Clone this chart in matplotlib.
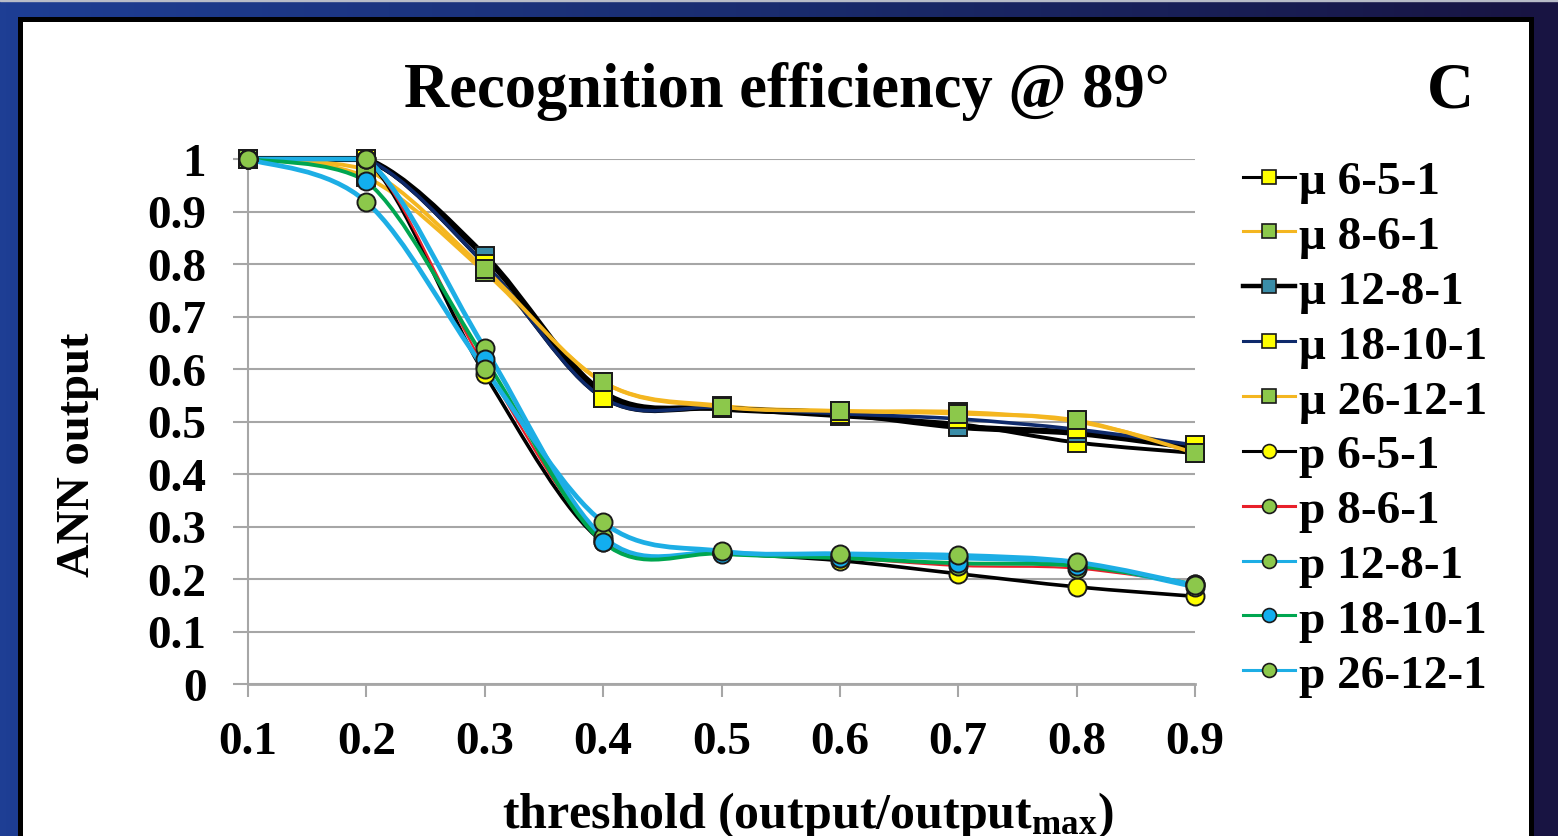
import numpy as np
import matplotlib
matplotlib.use("Agg")
import matplotlib.pyplot as plt
from matplotlib.path import Path
from matplotlib.patches import PathPatch, Rectangle
from matplotlib.lines import Line2D
from matplotlib.colors import LinearSegmentedColormap

W, H, DPI = 1558, 837, 100
SERIF = ["Liberation Serif", "DejaVu Serif"]
plt.rcParams["font.family"] = SERIF
plt.rcParams["font.weight"] = "bold"
plt.rcParams["mathtext.fontset"] = "custom"
plt.rcParams["mathtext.rm"] = "Liberation Serif:bold"
plt.rcParams["mathtext.it"] = "Liberation Serif:bold"
plt.rcParams["mathtext.bf"] = "Liberation Serif:bold"

# ---- data ----
thresholds = [0.1, 0.2, 0.3, 0.4, 0.5, 0.6, 0.7, 0.8, 0.9]
x_tick_labels = ["0.1", "0.2", "0.3", "0.4", "0.5", "0.6", "0.7", "0.8", "0.9"]
y_ticks = [0, 0.1, 0.2, 0.3, 0.4, 0.5, 0.6, 0.7, 0.8, 0.9, 1.0]
y_tick_labels = ["0", "0.1", "0.2", "0.3", "0.4", "0.5", "0.6", "0.7", "0.8", "0.9", "1"]

series_labels = ["μ 6-5-1", "μ 8-6-1", "μ 12-8-1", "μ 18-10-1", "μ 26-12-1",
                 "p 6-5-1", "p 8-6-1", "p 12-8-1", "p 18-10-1", "p 26-12-1"]

mu_6_5_1 = [1.00, 1.00, 0.800, 0.545, 0.525, 0.510, 0.495, 0.460, 0.440]
mu_8_6_1 = [1.00, 0.965, 0.785, 0.575, 0.530, 0.520, 0.518, 0.500, 0.445]
mu_12_8_1 = [1.00, 1.00, 0.815, 0.555, 0.525, 0.515, 0.490, 0.478, 0.450]
mu_18_10_1 = [1.00, 1.00, 0.800, 0.545, 0.527, 0.515, 0.505, 0.485, 0.455]
mu_26_12_1 = [1.00, 0.980, 0.790, 0.575, 0.528, 0.520, 0.515, 0.502, 0.440]

p_6_5_1 = [1.00, 1.00, 0.590, 0.270, 0.250, 0.235, 0.210, 0.185, 0.167]
p_8_6_1 = [1.00, 1.00, 0.605, 0.275, 0.250, 0.240, 0.225, 0.220, 0.190]
p_12_8_1 = [1.00, 1.00, 0.640, 0.280, 0.250, 0.245, 0.240, 0.230, 0.185]
p_18_10_1 = [1.00, 0.958, 0.620, 0.270, 0.248, 0.240, 0.230, 0.225, 0.190]
p_26_12_1 = [1.00, 0.918, 0.600, 0.308, 0.253, 0.248, 0.245, 0.232, 0.188]

series_values = [mu_6_5_1, mu_8_6_1, mu_12_8_1, mu_18_10_1, mu_26_12_1,
                 p_6_5_1, p_8_6_1, p_12_8_1, p_18_10_1, p_26_12_1]

# ---- styles ----
BLACK, GOLD, NAVY = "#000000", "#F4B620", "#0E2A6B"
CYAN, GREEN, RED = "#1DAEE5", "#00A650", "#E8202A"
YEL, LGREEN, TEAL, BLUE = "#FFFF00", "#8CC84B", "#3A8DA8", "#12AEEF"

line_colors = [BLACK, GOLD, BLACK, NAVY, GOLD, BLACK, RED, CYAN, GREEN, CYAN]
line_widths = [2.8, 2.8, 4.4, 2.6, 2.8, 2.6, 1.6, 3.4, 2.8, 3.4]
legend_widths = [2.2, 2.2, 3.2, 2.2, 2.2, 2.2, 2.2, 2.2, 2.2, 2.2]
markers = ["s"] * 5 + ["o"] * 5
marker_faces = [YEL, LGREEN, TEAL, YEL, LGREEN, YEL, LGREEN, LGREEN, BLUE, LGREEN]


def smooth_path(xs, ys, ymax=1.0):
    """Cubic Bezier path through the points (Catmull-Rom style smoothing)."""
    pts = np.column_stack([xs, ys]).astype(float)
    n = len(pts)
    verts = [pts[0]]
    codes = [Path.MOVETO]
    for i in range(n - 1):
        p0 = pts[max(i - 1, 0)]
        p1 = pts[i]
        p2 = pts[i + 1]
        p3 = pts[min(i + 2, n - 1)]
        c1 = p1 + (p2 - p0) / 6.0
        c2 = p2 - (p3 - p1) / 6.0
        c1[1] = min(c1[1], ymax)
        c2[1] = min(c2[1], ymax)
        verts += [c1, c2, p2]
        codes += [Path.CURVE4] * 3
    return Path(verts, codes)


fig = plt.figure(figsize=(W / DPI, H / DPI), dpi=DPI)

# backdrop gradient
bg = fig.add_axes([0, 0, 1, 1], zorder=-10)
cmap = LinearSegmentedColormap.from_list("bg", ["#1E3E94", "#1A2C6E", "#181442"])
grad = np.tile(np.linspace(0, 1, 256), (16, 1))
bg.imshow(grad, cmap=cmap, aspect="auto", extent=[0, 1, 0, 1])
bg.axhspan(1 - 2 / H, 1, color="#B8BCC8")
bg.set_xlim(0, 1)
bg.set_ylim(0, 1)
bg.axis("off")

# white chart panel with black frame
panel = Rectangle((20 / W, -0.05), (1531 - 20) / W, 1.05 - 20 / H,
                  transform=fig.transFigure, facecolor="white",
                  edgecolor="black", linewidth=3.6, zorder=-5)
fig.patches.append(panel)

# plot area
ax = fig.add_axes([248 / W, (H - 685) / H, 947 / W, 525 / H])
ax.set_facecolor("none")
ax.set_xlim(0.1, 0.9)
ax.set_ylim(0, 1)
GRID = "#A6A6A6"
for side in ("top", "right"):
    ax.spines[side].set_visible(False)
for side in ("left", "bottom"):
    ax.spines[side].set_color(GRID)
    ax.spines[side].set_linewidth(1.5)
ax.spines["bottom"].set_linewidth(2.0)
ax.set_yticks(y_ticks)
ax.set_yticklabels(y_tick_labels)
ax.set_xticks(thresholds)
ax.set_xticklabels(x_tick_labels)
ax.yaxis.grid(True, color=GRID, linewidth=1.5)
ax.set_axisbelow(True)
ax.tick_params(axis="y", direction="out", length=11, width=1.5, color=GRID,
               pad=19, labelsize=34)
ax.tick_params(axis="x", direction="out", length=9.5, width=1.5, color=GRID,
               pad=17, labelsize=34)
for lab in ax.get_xticklabels() + ax.get_yticklabels():
    lab.set_fontweight("bold")

for i, vals in enumerate(series_values):
    patch = PathPatch(smooth_path(thresholds, vals), facecolor="none",
                      edgecolor=line_colors[i], linewidth=line_widths[i],
                      transform=ax.transData, clip_on=False, zorder=3 + i * 0.01,
                      capstyle="round", joinstyle="round")
    ax.add_patch(patch)
for i, vals in enumerate(series_values):
    ax.plot(thresholds, vals, linestyle="none", marker=markers[i],
            markersize=13.5 if markers[i] == "s" else 13,
            markerfacecolor=marker_faces[i], markeredgecolor="#1a1a1a",
            markeredgewidth=1.4, clip_on=False, zorder=4 + i * 0.01)

# legend
handles = [Line2D([0], [0], color=line_colors[i], linewidth=legend_widths[i],
                  marker=markers[i], markersize=10, markerfacecolor=marker_faces[i],
                  markeredgecolor="#1a1a1a", markeredgewidth=1.2)
           for i in range(len(series_labels))]
fig.legend(handles, series_labels, loc="upper left",
           bbox_to_anchor=(1243 / W, 1 - 161 / H), frameon=False,
           handlelength=1.1, handletextpad=0.08,
           labelspacing=0.25, borderpad=0, borderaxespad=0,
           prop={"family": SERIF, "weight": "bold", "size": 34})

# titles and axis captions
fig.text(787 / W, 1 - 107 / H, "Recognition efficiency @ 89°", ha="center",
         va="baseline", fontsize=45, fontweight="bold")
fig.text(1450 / W, 1 - 107 / H, "C", ha="center", va="baseline",
         fontsize=47, fontweight="bold")
fig.text(78 / W, 1 - 455 / H, "ANN output", rotation=90, ha="center",
         va="center", fontsize=33.5, fontweight="bold")
fig.text(808 / W, 1 - 828 / H, r"threshold (output/output$_{\mathrm{max}}$)",
         ha="center", va="baseline", fontsize=36, fontweight="bold")

fig.savefig("out.png", dpi=DPI)
